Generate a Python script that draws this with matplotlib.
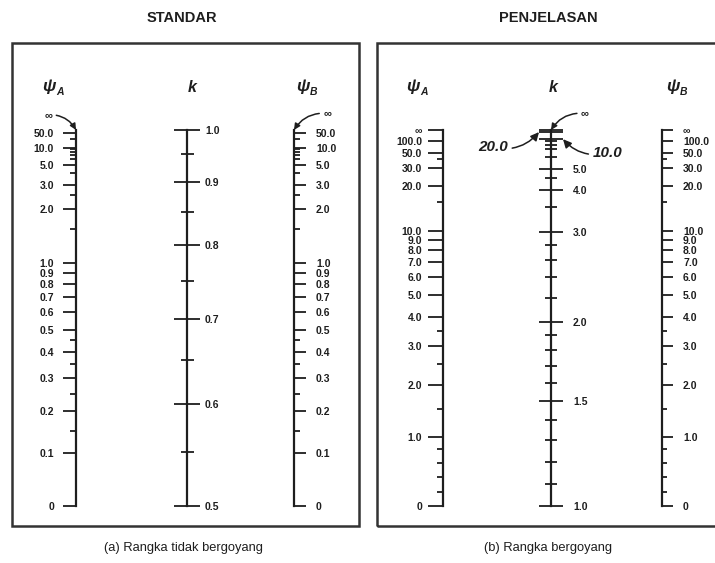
import numpy as np
import matplotlib
matplotlib.use("Agg")
import matplotlib.pyplot as plt
from matplotlib.patches import Rectangle
from matplotlib.transforms import offset_copy

plt.rcParams['font.family'] = ['Liberation Sans', 'DejaVu Sans']

W, H = 715, 563
INK = "#1e1e1e"
Y_TOP, Y_BOT = 130, 506      # pixel rows of scale top (infinity) and bottom

INF_PSI = 1e6
INF_K = 1e4

# ---- (a) braced frame ----
a_psi_major = [0, 0.1, 0.2, 0.3, 0.4, 0.5, 0.6, 0.7, 0.8, 0.9, 1.0, 2.0, 3.0, 5.0, 10.0, 50.0]
a_psi_labels = ["0", "0.1", "0.2", "0.3", "0.4", "0.5", "0.6", "0.7", "0.8", "0.9",
                "1.0", "2.0", "3.0", "5.0", "10.0", "50.0"]
a_psi_minor = [0.15, 0.25, 0.35, 0.45, 1.5, 2.5, 4.0, 6.0, 7.0, 8.0, 9.0, 20.0]

a_k_major = [0.5, 0.6, 0.7, 0.8, 0.9, 1.0]
a_k_labels = ["0.5", "0.6", "0.7", "0.8", "0.9", "1.0"]
a_k_minor = [0.55, 0.65, 0.75, 0.85, 0.95]

# ---- (b) sway frame ----
b_psi_major = [0, 1.0, 2.0, 3.0, 4.0, 5.0, 6.0, 7.0, 8.0, 9.0, 10.0, 20.0, 30.0, 50.0, 100.0, INF_PSI]
b_psi_labels = ["0", "1.0", "2.0", "3.0", "4.0", "5.0", "6.0", "7.0", "8.0", "9.0",
                "10.0", "20.0", "30.0", "50.0", "100.0", "∞"]
b_psi_minor = [0.2, 0.4, 0.6, 0.8, 1.5, 2.5, 3.5, 15.0, 40.0]

b_k_major = [1.0, 1.5, 2.0, 3.0, 4.0, 5.0, 10.0, 20.0, INF_K]
b_k_labels = ["1.0", "1.5", "2.0", "3.0", "4.0", "5.0", "", "", ""]
b_k_minor = [1.1, 1.2, 1.3, 1.4, 1.6, 1.7, 1.8, 1.9, 2.2, 2.4, 2.6, 2.8, 3.5, 4.5,
             6.0, 7.0, 8.0, 9.0]


def psi_funcs(c, p):
    def fwd(v):
        v = np.clip(np.asarray(v, float), 0, None)
        with np.errstate(over='ignore'):
            return 1.0 - c / (v ** p + c)

    def inv(f):
        f = np.clip(np.asarray(f, float), 0, 1 - 1e-12)
        return (c * f / (1.0 - f)) ** (1.0 / p)
    return fwd, inv


def g_braced(k):
    # equal end restraint G giving effective length factor k (braced frame)
    x = np.pi / k
    a = x ** 2 / 4
    b = 1 - x / np.tan(x)
    c = 2 * np.tan(x / 2) / x - 1
    return -2 * c / (b + np.sqrt(b * b - 4 * a * c))


def g_sway(k):
    x = np.pi / k
    return 6.0 / (x * np.tan(x / 2))


def table_funcs(ks, pos):
    return (lambda v: np.interp(v, ks, pos), lambda f: np.interp(f, pos, ks))


psi_a = psi_funcs(0.548, 1.05)
psi_b = psi_funcs(4.43, 1.08)

kb = np.linspace(0.5, 1.0, 4001)[1:-1]
pos_kb = np.r_[0.0, psi_a[0](g_braced(kb)), 1.0]
kb = np.r_[0.5, kb, 1.0]
pos_kb = np.maximum.accumulate(pos_kb)
k_a = table_funcs(kb, pos_kb)

u = np.linspace(1.0, 1.0 / INF_K, 8000)
ks = 1.0 / u
with np.errstate(divide='ignore'):
    pos_ks = psi_b[0](g_sway(ks))
pos_ks[0] = 0.0
pos_ks = np.maximum.accumulate(pos_ks)
k_b = table_funcs(ks, pos_ks)

fig = plt.figure(figsize=(W / 100, H / 100), dpi=100)


def fx(x):
    return x / W


def fy(y):
    return 1 - y / H


def make_scale(x_spine, side, lim, funcs, major, labels, minor,
               maj_len, min_len, pad):
    w = 1.0 / W
    left = x_spine / W if side == 'left' else x_spine / W - w
    ax = fig.add_axes([left, fy(Y_BOT), w, (Y_BOT - Y_TOP) / H])
    ax.set_yscale('function', functions=funcs)
    ax.set_ylim(*lim)
    ax.set_xticks([])
    ax.patch.set_visible(False)
    spine = 'left' if side == 'left' else 'right'
    for s in ax.spines:
        ax.spines[s].set_visible(s == spine)
    ax.spines[spine].set_linewidth(1.6)
    ax.spines[spine].set_color(INK)
    ax.yaxis.set_ticks_position(spine)
    direction = 'inout' if side == 'both' else 'out'
    ax.set_yticks(major, labels, fontweight='bold')
    ax.set_yticks(minor, minor=True)
    ax.tick_params(axis='y', which='major', direction=direction, length=maj_len * 0.72,
                   width=1.3, pad=pad * 0.72, labelsize=7.5, colors=INK)
    ax.tick_params(axis='y', which='minor', direction=direction, length=min_len * 0.72,
                   width=1.3, colors=INK)
    return ax


def arrow_note(ax, text, xy, offset, rad, size=8, style='normal', dx=0):
    trans = offset_copy(ax.get_yaxis_transform(), fig=fig, x=dx, y=0, units='dots')
    ax.annotate(text, xy=xy, xycoords=trans, xytext=offset, textcoords='offset points',
                ha='center', va='center', fontsize=size, fontweight='bold',
                fontstyle=style, color=INK,
                arrowprops=dict(arrowstyle='-|>,head_length=0.45,head_width=0.22',
                                color=INK, lw=1.1, shrinkA=1, shrinkB=0,
                                connectionstyle=f'arc3,rad={rad}'))


# panel frames
fig.add_artist(Rectangle((fx(12), fy(526)), fx(359) - fx(12), fy(43) - fy(526),
                         transform=fig.transFigure, fill=False, lw=1.8, ec="#333333"))
fig.add_artist(Rectangle((fx(377), fy(526)), fx(722) - fx(377), fy(43) - fy(526),
                         transform=fig.transFigure, fill=False, lw=1.8, ec="#333333"))

# (a) braced
ax = make_scale(76, 'left', (0, INF_PSI), psi_a, a_psi_major, a_psi_labels, a_psi_minor, 13, 6, 9)
arrow_note(ax, "∞", (0, INF_PSI), (-20, 11), -0.3)
make_scale(187, 'both', (0.5, 1.0), k_a, a_k_major, a_k_labels, a_k_minor, 26, 13, 5)
ax = make_scale(294, 'right', (0, INF_PSI), psi_a, a_psi_major, a_psi_labels, a_psi_minor, 12, 6, 10)
arrow_note(ax, "∞", (1, INF_PSI), (24, 12), 0.3)

# (b) sway
make_scale(443, 'left', (0, INF_PSI), psi_b, b_psi_major, b_psi_labels, b_psi_minor, 15, 6, 6)
ax = make_scale(551, 'both', (1.0, INF_K), k_b, b_k_major, b_k_labels, b_k_minor, 24, 12, 10)
arrow_note(ax, "∞", (1, INF_K), (24.5, 12), 0.3)
arrow_note(ax, "20.0", (1, 20.0), (-33, -11), 0.3, size=11, style='italic', dx=-12)
arrow_note(ax, "10.0", (1, 10.0), (32, -10), -0.3, size=11, style='italic', dx=12)
make_scale(662, 'right', (0, INF_PSI), psi_b, b_psi_major, b_psi_labels, b_psi_minor, 11, 5, 10)

# scale headers
for x, sub in [(49, "A"), (303, "B"), (413, "A"), (673, "B")]:
    fig.text(fx(x), fy(86), "ψ", ha='center', va='center', fontsize=12.5,
             fontweight='bold', fontstyle='italic', color=INK)
    fig.text(fx(x + 11), fy(92), sub, ha='center', va='center', fontsize=7.5,
             fontweight='bold', fontstyle='italic', color=INK)
for x in (192, 553):
    fig.text(fx(x), fy(88), "k", ha='center', va='center', fontsize=11.5,
             fontweight='bold', fontstyle='italic', color=INK)

# titles and captions
fig.text(fx(182), fy(18), "STANDAR", ha='center', va='center', fontsize=10.5,
         fontweight='bold', color=INK)
fig.text(fx(548), fy(18), "PENJELASAN", ha='center', va='center', fontsize=10.5,
         fontweight='bold', color=INK)
fig.text(fx(183), fy(548), "(a) Rangka tidak bergoyang", ha='center', va='center',
         fontsize=9.3, color=INK)
fig.text(fx(548), fy(548), "(b) Rangka bergoyang", ha='center', va='center',
         fontsize=9.3, color=INK)

fig.savefig("out.png", dpi=100)
